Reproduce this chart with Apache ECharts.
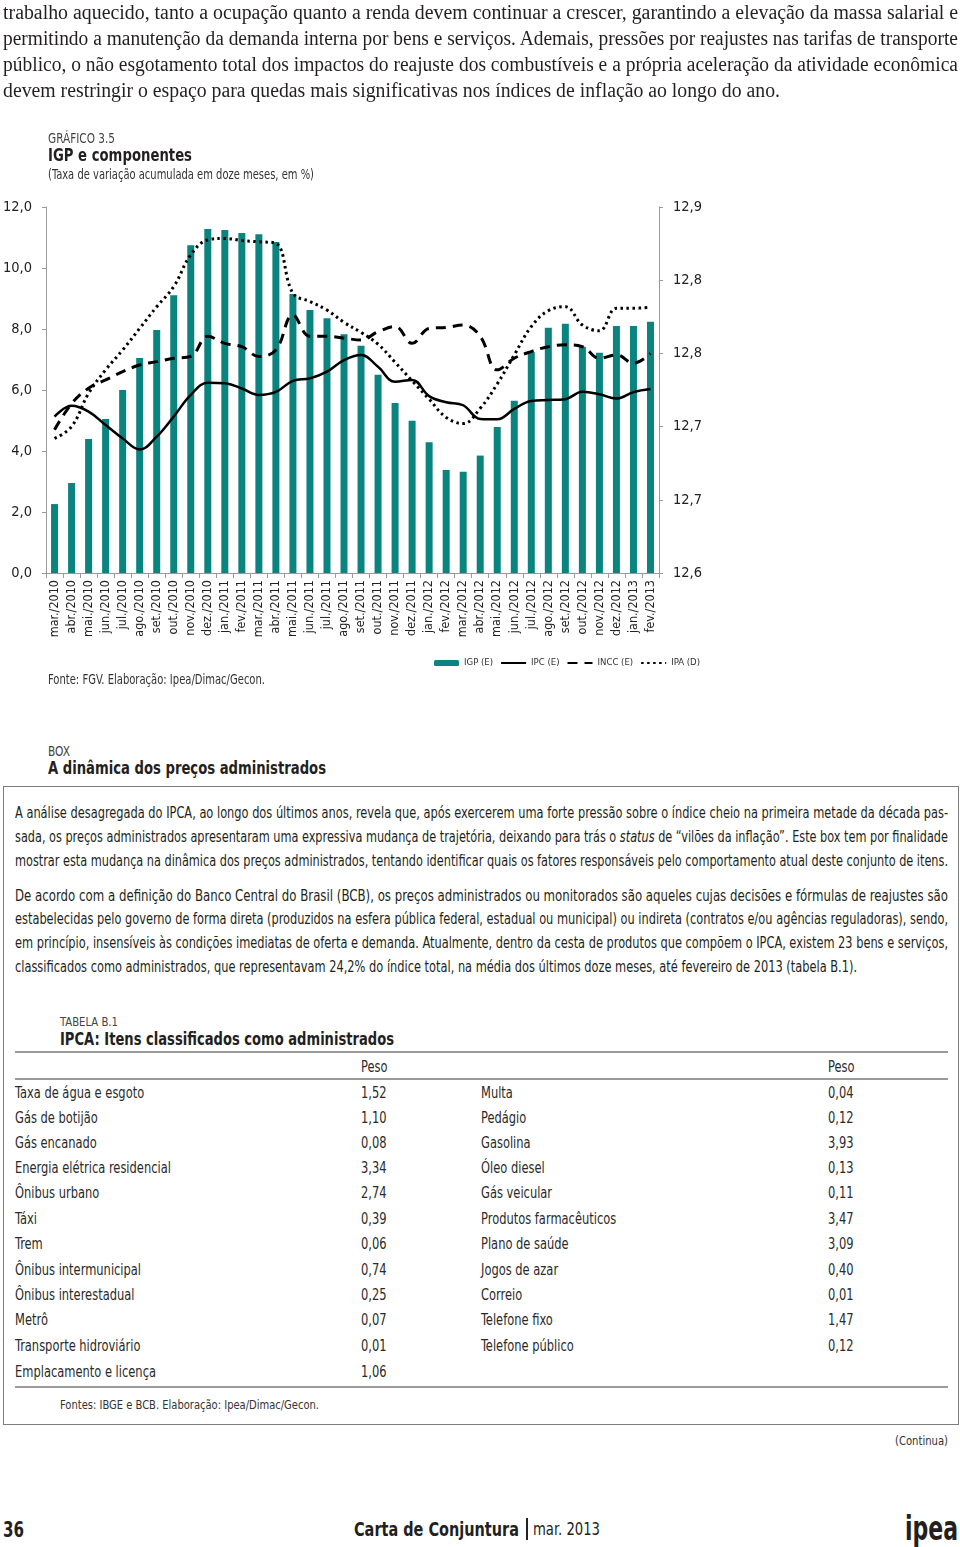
<!DOCTYPE html>
<html><head><meta charset="utf-8">
<script src="https://cdn.jsdelivr.net/npm/echarts@6/dist/echarts.min.js"></script>
<style>
html,body{margin:0;padding:0;background:#fff;}
body{width:960px;height:1547px;position:relative;overflow:hidden;font-family:'Liberation Sans Narrow','DejaVu Sans Condensed','Liberation Sans',sans-serif;color:#231f20;}
.t{position:absolute;white-space:nowrap;line-height:1;display:inline-block;transform-origin:0 0;}
.serif{font-family:'Liberation Serif','DejaVu Serif',serif;font-size:20px;}
.bx{font-size:15px;}
.tb{font-size:15px;color:#2a2a2a;}
.b{font-weight:bold;}
#chart{position:absolute;left:0;top:0;width:960px;height:700px;}
.rule{position:absolute;background:#9a9a9a;}
</style></head>
<body>
<div id="chart"></div>
<div id="page"></div>
<script>
// ---------------- chart data ----------------
const categories = ['mar./2010','abr./2010','mai./2010','jun./2010','jul./2010','ago./2010','set./2010','out./2010','nov./2010','dez./2010',
  'jan./2011','fev./2011','mar./2011','abr./2011','mai./2011','jun./2011','jul./2011','ago./2011','set./2011','out./2011','nov./2011','dez./2011',
  'jan./2012','fev./2012','mar./2012','abr./2012','mai./2012','jun./2012','jul./2012','ago./2012','set./2012','out./2012','nov./2012','dez./2012',
  'jan./2013','fev./2013'];
const igp = [2.26,2.95,4.39,5.05,6.00,7.05,7.97,9.11,10.75,11.28,
  11.25,11.15,11.11,10.85,9.15,8.62,8.35,7.83,7.45,6.50,5.57,4.99,
  4.29,3.38,3.32,3.85,4.79,5.65,7.24,8.04,8.17,7.42,7.22,8.10,
  8.10,8.24];
const ipc = [5.13,5.48,5.29,4.85,4.41,4.05,4.47,5.13,5.84,6.24,
  6.22,6.05,5.84,5.94,6.30,6.38,6.60,6.98,7.15,6.76,6.27,6.33,
  5.80,5.60,5.50,5.05,5.04,5.38,5.64,5.67,5.70,5.94,5.86,5.72,
  5.93,6.03];
const incc = [4.70,5.55,6.06,6.33,6.60,6.82,6.93,7.04,7.10,7.76,
  7.53,7.42,7.10,7.31,8.46,7.76,7.76,7.70,7.64,7.91,8.08,7.53,
  8.02,8.05,8.13,7.76,6.66,7.04,7.26,7.42,7.48,7.42,7.04,7.15,
  6.88,7.20];
const ipa = [4.41,4.80,5.89,6.66,7.31,8.02,8.73,9.39,10.43,10.92,
  10.97,10.90,10.86,10.81,9.17,8.90,8.62,8.22,7.89,7.50,6.91,6.30,
  5.70,5.10,4.90,5.40,6.20,7.15,8.08,8.60,8.73,8.13,7.94,8.68,
  8.68,8.71];
const seriesNames = ['IGP (E)','IPC (E)','INCC (E)','IPA (D)'];
const leftTicks = {min:0,max:12,interval:2};
const rightTicks = {min:12.6,max:12.9,interval:0.06};

// ---------------- table data ----------------
const tableLeftNames = ['Taxa de água e esgoto','Gás de botijão','Gás encanado','Energia elétrica residencial','Ônibus urbano','Táxi','Trem','Ônibus intermunicipal','Ônibus interestadual','Metrô','Transporte hidroviário','Emplacamento e licença'];
const tableLeftValues = ['1,52','1,10','0,08','3,34','2,74','0,39','0,06','0,74','0,25','0,07','0,01','1,06'];
const tableRightNames = ['Multa','Pedágio','Gasolina','Óleo diesel','Gás veicular','Produtos farmacêuticos','Plano de saúde','Jogos de azar','Correio','Telefone fixo','Telefone público'];
const tableRightValues = ['0,04','0,12','3,93','0,13','0,11','3,47','3,09','0,40','0,01','1,47','0,12'];

// ---------------- page text ----------------
const FONT = "'Liberation Sans Narrow','DejaVu Sans Condensed','Liberation Sans',sans-serif";
const page = document.getElementById('page');
function txt(s, x, cy, cls, fs, w, extra){
  const e = document.createElement('span');
  e.className = 't ' + (cls||'');
  e.innerHTML = s;
  if(fs) e.style.fontSize = fs + 'px';
  const f = fs || 15;
  e.style.left = x + 'px';
  e.style.top = (cy - f/2) + 'px';
  if(w) e.dataset.w = w;
  if(extra) Object.assign(e.style, extra);
  page.appendChild(e);
  return e;
}
function rule(x,y,w,h,c){
  const d=document.createElement('div');d.className='rule';
  Object.assign(d.style,{left:x+'px',top:y+'px',width:w+'px',height:h+'px'});
  if(c) d.style.background=c;
  page.appendChild(d);
}
// top paragraph
txt('trabalho aquecido, tanto a ocupação quanto a renda devem continuar a crescer, garantindo a elevação da massa salarial e',3,12,'serif',20,955);
txt('permitindo a manutenção da demanda interna por bens e serviços. Ademais, pressões por reajustes nas tarifas de transporte',3,38,'serif',20,955);
txt('público, o não esgotamento total dos impactos do reajuste dos combustíveis e a própria aceleração da atividade econômica',3,64,'serif',20,955);
txt('devem restringir o espaço para quedas mais significativas nos índices de inflação ao longo do ano.',3,90,'serif',20,777);
// chart heading
txt('GRÁFICO 3.5',48,138,'',14,67,{color:'#444'});
txt('IGP e componentes',48,155,'b',17,144);
txt('(Taxa de variação acumulada em doze meses, em %)',48,175,'',13.5,266,{color:'#333'});
txt('Fonte: FGV. Elaboração: Ipea/Dimac/Gecon.',48,680,'',13.5,217,{color:'#333'});
// box heading
txt('BOX',48,751,'',14,22,{color:'#444'});
txt('A dinâmica dos preços administrados',48,769,'b',17.5,278);
// box border
const box=document.createElement('div');
Object.assign(box.style,{position:'absolute',left:'3px',top:'786px',width:'954px',height:'637px',border:'1px solid #7d7d7d'});
page.appendChild(box);
// box paragraphs
txt('A análise desagregada do IPCA, ao longo dos últimos anos, revela que, após exercerem uma forte pressão sobre o índice cheio na primeira metade da década pas-',15,813,'bx',15,933);
txt('sada, os preços administrados apresentaram uma expressiva mudança de trajetória, deixando para trás o <i>status</i> de “vilões da inflação”. Este box tem por finalidade',15,837,'bx',15,933);
txt('mostrar esta mudança na dinâmica dos preços administrados, tentando identificar quais os fatores responsáveis pelo comportamento atual deste conjunto de itens.',15,861,'bx',15,933);
txt('De acordo com a definição do Banco Central do Brasil (BCB), os preços administrados ou monitorados são aqueles cujas decisões e fórmulas de reajustes são',15,896,'bx',15,933);
txt('estabelecidas pelo governo de forma direta (produzidos na esfera pública federal, estadual ou municipal) ou indireta (contratos e/ou agências reguladoras), sendo,',15,919,'bx',15,933);
txt('em princípio, insensíveis às condições imediatas de oferta e demanda. Atualmente, dentro da cesta de produtos que compõem o IPCA, existem 23 bens e serviços,',15,943,'bx',15,933);
txt('classificados como administrados, que representavam 24,2% do índice total, na média dos últimos doze meses, até fevereiro de 2013 (tabela B.1).',15,967,'bx',15,842);
// table
txt('TABELA B.1',60,1021,'',13,58,{color:'#444'});
txt('IPCA: Itens classificados como administrados',60,1040,'b',17.5,334);
rule(15,1051,933,2);
const TS = 0.85;
function cell(s,x,y){ const e=txt(s,x,y,'tb',15); e.dataset.s=TS; }
cell('Peso',361,1067);
cell('Peso',828,1067);
rule(15,1078,933,2);
const rowY=[1093,1118,1143,1168,1193,1219,1244,1270,1295,1320,1346,1372];
tableLeftNames.forEach((n,i)=>{cell(n,15,rowY[i]);cell(tableLeftValues[i],361,rowY[i]);});
tableRightNames.forEach((n,i)=>{cell(n,481,rowY[i]);cell(tableRightValues[i],828,rowY[i]);});
rule(15,1386,933,2);
txt('Fontes: IBGE e BCB. Elaboração: Ipea/Dimac/Gecon.',60,1404,'',13,259,{color:'#333'});
txt('(Continua)',895,1440,'',13,53,{color:'#333'});
// footer
txt('36',3,1530,'b',21,21);
txt('Carta de Conjuntura',354,1529,'b',19,165);
rule(526,1518,1.5,22,'#222');
txt('mar. 2013',533,1529,'',17,67);
txt('ipea',905,1528,'b',34,53);

function fit(){
  document.querySelectorAll('[data-w]').forEach(el=>{
    el.style.transform='none';
    const nat=el.getBoundingClientRect().width;
    const w=+el.dataset.w;
    if(nat>0) el.style.transform='scaleX('+(w/nat)+')';
  });
  document.querySelectorAll('[data-s]').forEach(el=>{
    el.style.transform='scaleX('+el.dataset.s+')';
  });
}
fit();

// ---------------- chart ----------------
const fmt = v => v.toFixed(1).replace('.', ',');
const chart = echarts.init(document.getElementById('chart'), null, {renderer:'canvas'});
const axisGray = '#9a9a9a';
const noSym = {itemStyle:{opacity:0}};
chart.setOption({
  animation:false,
  textStyle:{fontFamily:FONT},
  grid:{left:45, top:207, width:614, height:366, containLabel:false},
  legend:{
    left:429, top:653, itemWidth:25, itemHeight:6, itemGap:7,
    textStyle:{fontFamily:FONT,fontSize:9.5,color:'#333'},
    data:[{name:seriesNames[0]},
          Object.assign({name:seriesNames[1]},noSym),
          Object.assign({name:seriesNames[2]},noSym),
          Object.assign({name:seriesNames[3]},noSym)]
  },
  xAxis:{
    type:'category', data:categories, boundaryGap:true,
    axisLine:{lineStyle:{color:axisGray,width:1}},
    axisTick:{show:true,length:5,lineStyle:{color:axisGray}},
    axisLabel:{rotate:90,interval:0,fontSize:12.5,color:'#222',margin:7,fontFamily:FONT}
  },
  yAxis:[
    {type:'value', min:leftTicks.min, max:leftTicks.max, interval:leftTicks.interval, position:'left',
     axisLine:{show:true,lineStyle:{color:axisGray}},
     axisTick:{show:true,length:4,lineStyle:{color:axisGray}},
     splitLine:{show:false},
     axisLabel:{formatter:fmt,fontSize:14.5,color:'#222',margin:14,fontFamily:FONT}},
    {type:'value', min:rightTicks.min, max:rightTicks.max, interval:rightTicks.interval, position:'right',
     axisLine:{show:true,lineStyle:{color:axisGray}},
     axisTick:{show:true,length:4,lineStyle:{color:axisGray}},
     splitLine:{show:false},
     axisLabel:{formatter:fmt,fontSize:14.5,color:'#222',margin:14,fontFamily:FONT}}
  ],
  series:[
    {name:seriesNames[0], type:'bar', data:igp, barWidth:7, itemStyle:{color:'#0b8480'}, yAxisIndex:0},
    {name:seriesNames[1], type:'line', data:ipc, smooth:0.4, symbol:'none', yAxisIndex:0,
     itemStyle:{color:'#000'}, lineStyle:{color:'#000',width:2.5}},
    {name:seriesNames[2], type:'line', data:incc, smooth:0.4, symbol:'none', yAxisIndex:0,
     itemStyle:{color:'#000'}, lineStyle:{color:'#000',width:3,type:[10,7]}},
    {name:seriesNames[3], type:'line', data:ipa, smooth:0.4, symbol:'none', yAxisIndex:0,
     itemStyle:{color:'#000'}, lineStyle:{color:'#000',width:3,type:[2.5,3.5]}}
  ]
});
</script>
</body></html>
